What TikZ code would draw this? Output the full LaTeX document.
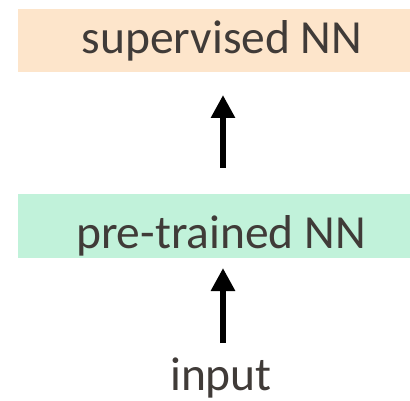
\documentclass[tikz,border=0pt]{standalone}
\usepackage{fontspec}
\setmainfont{Carlito}
\usetikzlibrary{arrows.meta}
\definecolor{peach}{HTML}{FDE5CB}
\definecolor{mint}{HTML}{C1F2DA}
\definecolor{txt}{HTML}{403B38}
\begin{document}
\begin{tikzpicture}[x=1pt,y=-1pt,
  boxa/.style={fill=#1,draw=none,inner sep=0pt,minimum width=392pt,minimum height=63pt},
  lbl/.style={font=\fontsize{47.5}{52}\selectfont,text=txt,anchor=base,inner sep=0pt},
  up/.style={line width=6pt,-{Triangle[width=23pt,length=23pt]}}]
\useasboundingbox (0,0) rectangle (410,401);
\node[boxa=peach] (sup) at (214,40.5) {};
\node[boxa=mint] (pre) at (214,226) {};
\node[lbl] (supt) at (222,54) {supervised NN};
\node[lbl] (pret) at (221,248) {pre-trained NN};
\node[lbl] (inp) at (221,390) {input};
\coordinate (a1s) at (223,168);
\coordinate (a1e) at (223,95);
\coordinate (a2s) at (223,343);
\coordinate (a2e) at (223,268);
\draw[up] (a1s) -- (a1e);
\draw[up] (a2s) -- (a2e);
\end{tikzpicture}
\end{document}
